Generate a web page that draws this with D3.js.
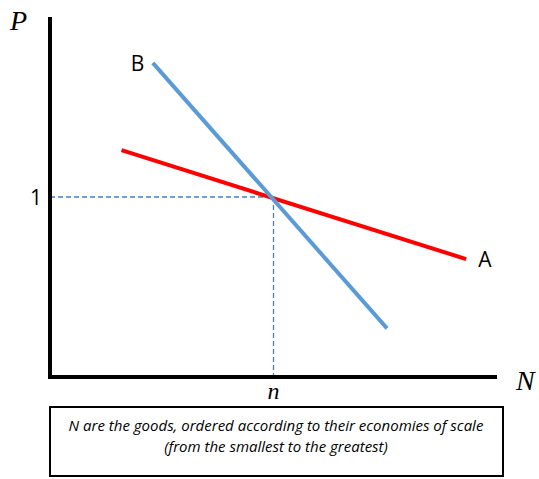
<!DOCTYPE html>
<html>
<head>
<meta charset="utf-8">
<script src="https://cdn.jsdelivr.net/npm/d3@7"></script>
<style>
  body { margin: 0; background: #fff; }
  svg { display: block; }
</style>
</head>
<body>
<div id="chart"></div>
<script>
// curve endpoints in chart units (N: 0..100, P: 0..2)
const lineA = [{ n: 16, p: 1.26 }, { n: 93.1, p: 0.655 }];
const lineB = [{ n: 23, p: 1.745 }, { n: 75.4, p: 0.27 }];
const crossN = 50;
const crossP = 1;
const lineLabels = ['A', 'B'];
const caption = [
  'N are the goods, ordered according to their economies of scale',
  '(from the smallest to the greatest)'
];

const width = 539, height = 479;

const x = d3.scaleLinear().domain([0, 100]).range([50, 497]);
const y = d3.scaleLinear().domain([0, 2]).range([377, 17]);

const svg = d3.select('#chart').append('svg')
  .attr('width', width)
  .attr('height', height);

// dashed guides to the crossing point
svg.append('line')
  .attr('x1', x(0)).attr('x2', x(crossN))
  .attr('y1', y(crossP)).attr('y2', y(crossP))
  .attr('stroke', '#4a7ebb').attr('stroke-width', 1.3)
  .attr('stroke-dasharray', '5,3');
svg.append('line')
  .attr('x1', x(crossN)).attr('x2', x(crossN))
  .attr('y1', y(crossP)).attr('y2', y(0))
  .attr('stroke', '#4a7ebb').attr('stroke-width', 1.3)
  .attr('stroke-dasharray', '5,3');

const line = d3.line().x(d => x(d.n)).y(d => y(d.p));

svg.append('path')
  .datum(lineA)
  .attr('d', line)
  .attr('fill', 'none')
  .attr('stroke', '#ff0000')
  .attr('stroke-width', 4);

svg.append('path')
  .datum(lineB)
  .attr('d', line)
  .attr('fill', 'none')
  .attr('stroke', '#5b9bd5')
  .attr('stroke-width', 4);

// axes
svg.append('path')
  .attr('d', `M${x(0)},${y(2)}V${y(0)}H${x(100)}`)
  .attr('fill', 'none')
  .attr('stroke', '#000')
  .attr('stroke-width', 4);

// labels
svg.append('text')
  .attr('x', x(lineA[1].n) + 12).attr('y', y(lineA[1].p) + 8)
  .attr('font-family', 'Open Sans, sans-serif').attr('font-size', 21)
  .text(lineLabels[0]);
svg.append('text')
  .attr('x', x(lineB[0].n) - 22).attr('y', y(lineB[0].p) + 8)
  .attr('font-family', 'Open Sans, sans-serif').attr('font-size', 21)
  .text(lineLabels[1]);

svg.append('text')
  .attr('x', x(0) - 8).attr('y', y(crossP) + 8)
  .attr('text-anchor', 'end')
  .attr('font-family', 'Open Sans, sans-serif').attr('font-size', 21)
  .text(String(crossP));

svg.append('text')
  .attr('x', x(crossN)).attr('y', y(0) + 22)
  .attr('text-anchor', 'middle')
  .attr('font-family', 'Liberation Serif, serif').attr('font-style', 'italic')
  .attr('font-size', 24)
  .text('n');

svg.append('text')
  .attr('x', 10).attr('y', 30)
  .attr('font-family', 'Liberation Serif, serif').attr('font-style', 'italic')
  .attr('font-size', 28)
  .text('P');

svg.append('text')
  .attr('x', 516).attr('y', 390)
  .attr('font-family', 'Liberation Serif, serif').attr('font-style', 'italic')
  .attr('font-size', 28)
  .text('N');

// caption box
svg.append('rect')
  .attr('x', 50).attr('y', 407)
  .attr('width', 453).attr('height', 69)
  .attr('fill', '#fff')
  .attr('stroke', '#000')
  .attr('stroke-width', 2);

svg.selectAll('text.caption')
  .data(caption)
  .enter().append('text')
  .attr('class', 'caption')
  .attr('x', 276)
  .attr('y', (d, i) => 431 + i * 21)
  .attr('text-anchor', 'middle')
  .attr('font-family', 'Open Sans, sans-serif')
  .attr('font-style', 'italic')
  .attr('font-size', 15)
  .text(d => d);
</script>
</body>
</html>
